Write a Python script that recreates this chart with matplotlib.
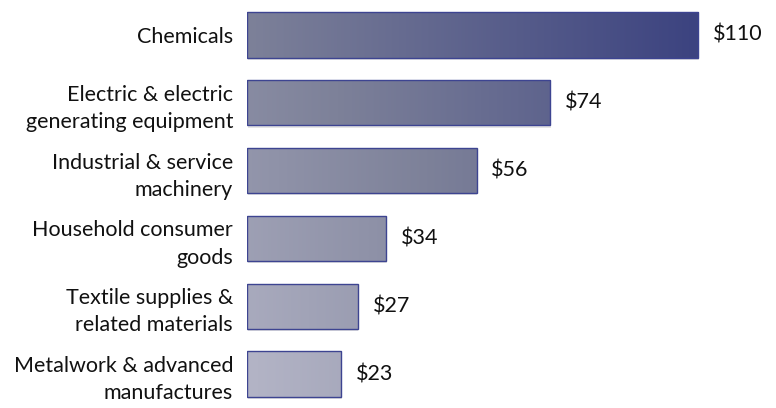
import numpy as np
import matplotlib
matplotlib.use("Agg")
import matplotlib.pyplot as plt
import matplotlib.patheffects as pe
from matplotlib.colors import LinearSegmentedColormap

categories = ["Chemicals",
              "Electric & electric\ngenerating equipment",
              "Industrial & service\nmachinery",
              "Household consumer\ngoods",
              "Textile supplies &\nrelated materials",
              "Metalwork & advanced\nmanufactures"]
values = [110, 74, 56, 34, 27, 23]
value_labels = ["$110", "$74", "$56", "$34", "$27", "$23"]

plt.rcParams['font.family'] = ['Lato', 'DejaVu Sans']

# degrade clair (bas-gauche) -> fonce (haut-droite)
cmap = LinearSegmentedColormap.from_list("navy", ["#b3b4c6", "#7d8199", "#3c4380"])

fig = plt.figure(figsize=(7.76, 4.08), dpi=100)
ax = fig.add_axes([247 / 776, 0.0, 529 / 776, 407 / 408])

y = np.arange(len(categories))[::-1]
bars = ax.barh(y, values, height=0.67, color="none", edgecolor="#3d4491", linewidth=1.0, zorder=3)

xmax = 129
n = len(categories)
for i, (b, yi) in enumerate(zip(bars, y)):
    x0, x1 = b.get_x(), b.get_x() + b.get_width()
    y0, y1 = b.get_y(), b.get_y() + b.get_height()
    xs = np.linspace(x0, x1, 200)
    t = 0.5 * xs / max(values) + 0.5 * yi / (n - 1)
    grad = t[np.newaxis, :]
    im = ax.imshow(grad, cmap=cmap, vmin=0, vmax=1, aspect="auto",
                   extent=[x0, x1, y0, y1], zorder=2, interpolation="bicubic")
    im.set_clip_path(b)
    # ombre legere sous la barre
    shadow = plt.Rectangle((x0, y0), x1 - x0, y1 - y0, facecolor="white", edgecolor="none", zorder=1,
                           path_effects=[pe.SimplePatchShadow(offset=(0.5, -1.5), shadow_rgbFace="#999999", alpha=0.25)])
    ax.add_patch(shadow)
    ax.text(x1 + 3.6, yi, value_labels[i], va="center", ha="left", fontsize=15.5, color="#111111")

ax.set_xlim(0, xmax)
ax.set_ylim(-0.5, n - 0.5)
ax.set_yticks(y)
ax.set_yticklabels(categories, fontsize=15.5, linespacing=1.45, color="#111111")
ax.tick_params(axis="y", length=0, pad=10)
ax.set_xticks([])
for s in ax.spines.values():
    s.set_visible(False)

fig.savefig("out.png", dpi=100)
